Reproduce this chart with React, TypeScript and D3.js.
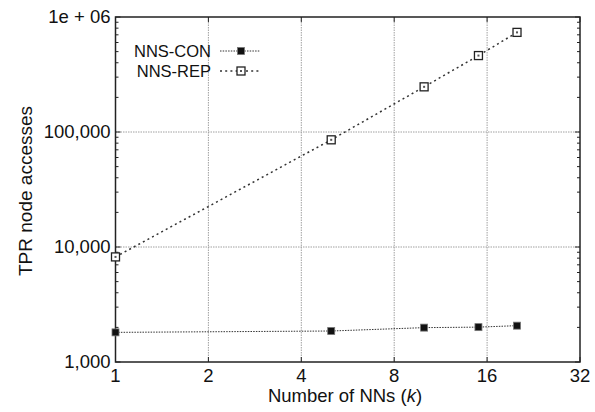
import * as d3 from "d3";

const ks = [1, 5, 10, 15, 20];
const conValues = [1810, 1860, 1990, 2010, 2070];
const repValues = [8200, 85500, 247000, 462000, 735000];
const seriesNames = ["NNS-CON", "NNS-REP"];
const xTicks = [1, 2, 4, 8, 16, 32];
const yTicks = [1000, 10000, 100000, 1000000];
const yTickLabels = ["1,000", "10,000", "100,000", "1e + 06"];

const W = 595;
const H = 412;
const m = { left: 115.5, right: 580, top: 17, bottom: 362 };
const FONT = "'Liberation Sans', Arial, Helvetica, sans-serif";

const App = () => {
  const x = d3.scaleLog().base(2).domain([1, 32]).range([m.left, m.right]);
  const y = d3.scaleLog().domain([1000, 1e6]).range([m.bottom, m.top]);

  const minorY = y.ticks().filter((v) => !yTicks.includes(v));

  const line = d3
    .line<number>()
    .x((_, i) => x(ks[i]))
    .y((d) => y(d));

  const grid = "#a0a0a0";

  return (
    <svg
      width={W}
      height={H}
      style={{ position: "absolute", left: 0, top: 0, background: "#fff" }}
      fontFamily={FONT}
    >
      {/* grid */}
      {xTicks.slice(1, -1).map((t) => (
        <line key={"gx" + t} x1={x(t)} x2={x(t)} y1={m.top} y2={m.bottom}
          stroke={grid} strokeWidth={1} strokeDasharray="1.5,1" />
      ))}
      {yTicks.slice(1, -1).map((t) => (
        <line key={"gy" + t} x1={m.left} x2={m.right} y1={y(t)} y2={y(t)}
          stroke={grid} strokeWidth={1} strokeDasharray="1.5,1" />
      ))}

      {/* minor y ticks */}
      {minorY.map((t) => (
        <g key={"my" + t}>
          <line x1={m.left} x2={m.left + 3} y1={y(t)} y2={y(t)} stroke="#222" strokeWidth={1} />
          <line x1={m.right - 3} x2={m.right} y1={y(t)} y2={y(t)} stroke="#222" strokeWidth={1} />
        </g>
      ))}
      {yTicks.map((t) => (
        <g key={"My" + t}>
          <line x1={m.left} x2={m.left + 5} y1={y(t)} y2={y(t)} stroke="#222" strokeWidth={1} />
          <line x1={m.right - 5} x2={m.right} y1={y(t)} y2={y(t)} stroke="#222" strokeWidth={1} />
        </g>
      ))}
      {xTicks.map((t) => (
        <g key={"Mx" + t}>
          <line x1={x(t)} x2={x(t)} y1={m.top} y2={m.top + 5} stroke="#222" strokeWidth={1} />
          <line x1={x(t)} x2={x(t)} y1={m.bottom - 5} y2={m.bottom} stroke="#222" strokeWidth={1} />
        </g>
      ))}

      {/* frame */}
      <rect x={m.left} y={m.top} width={m.right - m.left} height={m.bottom - m.top}
        fill="none" stroke="#222" strokeWidth={1.5} />

      {/* tick labels */}
      {yTicks.map((t, i) => (
        <text key={"ly" + t} x={m.left - 5} y={y(t)} dy="0.35em" textAnchor="end"
          fontSize={18.5} fill="#111">{yTickLabels[i]}</text>
      ))}
      {xTicks.map((t) => (
        <text key={"lx" + t} x={x(t)} y={382} textAnchor="middle" fontSize={18.5} fill="#111">{t}</text>
      ))}

      {/* axis titles */}
      <text x={345} y={402} textAnchor="middle" fontSize={18.5} fill="#111">
        Number of NNs (<tspan fontStyle="italic">k</tspan>)
      </text>
      <text transform={`translate(31.5,191) rotate(-90)`} textAnchor="middle" fontSize={19} fill="#111">
        TPR node accesses
      </text>

      {/* series */}
      <path d={line(conValues) || ""} fill="none" stroke="#333" strokeWidth={1} strokeDasharray="1.5,1.2" />
      <path d={line(repValues) || ""} fill="none" stroke="#333" strokeWidth={1.5} strokeDasharray="2,3.2" />
      {conValues.map((v, i) => (
        <rect key={"c" + i} x={x(ks[i]) - 3.5} y={y(v) - 3.5} width={7} height={7}
          fill="#111" stroke="#777" strokeWidth={0.8} />
      ))}
      {repValues.map((v, i) => (
        <g key={"r" + i}>
          <rect x={x(ks[i]) - 4} y={y(v) - 4} width={8} height={8} fill="#fff" stroke="#222" strokeWidth={1.3} />
          <rect x={x(ks[i]) - 1} y={y(v) - 1} width={2} height={2} fill="#555" />
        </g>
      ))}

      {/* legend */}
      {seriesNames.map((name, i) => {
        const ly = 51 + i * 20;
        return (
          <g key={name}>
            <text x={211} y={ly} dy="0.35em" textAnchor="end" fontSize={16.5} fill="#111">{name}</text>
            <line x1={220} x2={260} y1={ly} y2={ly} stroke="#333"
              strokeWidth={i === 0 ? 1 : 1.5} strokeDasharray={i === 0 ? "1.5,1.2" : "2,3.2"} />
            {i === 0 ? (
              <rect x={241 - 3.5} y={ly - 3.5} width={7} height={7} fill="#111" stroke="#777" strokeWidth={0.8} />
            ) : (
              <g>
                <rect x={241 - 4} y={ly - 4} width={8} height={8} fill="#fff" stroke="#222" strokeWidth={1.3} />
                <rect x={240} y={ly - 1} width={2} height={2} fill="#555" />
              </g>
            )}
          </g>
        );
      })}
    </svg>
  );
};

export default App;
